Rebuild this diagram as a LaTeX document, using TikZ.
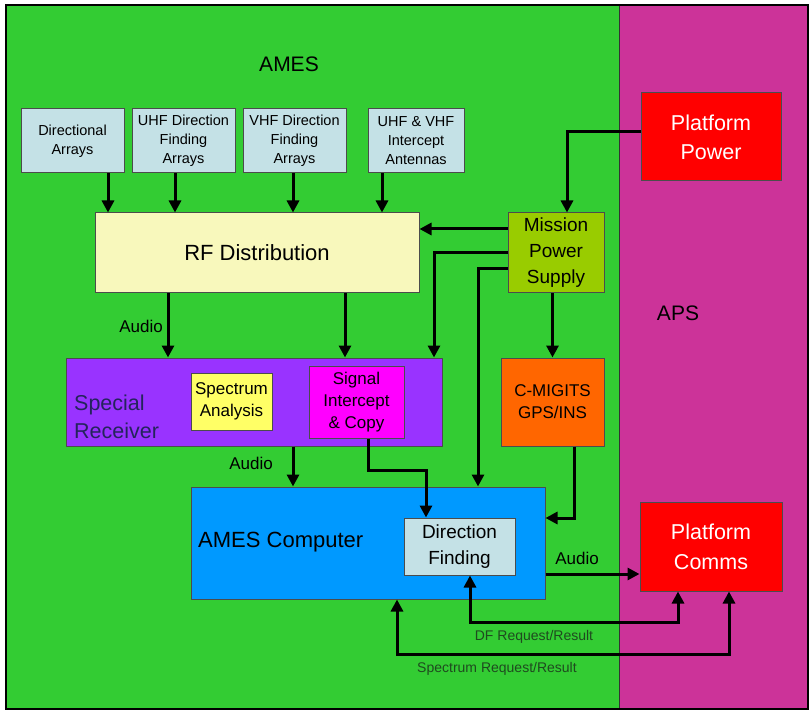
\documentclass[tikz,border=0pt]{standalone}
\usepackage{fontspec}
\setmainfont{Liberation Sans}
\usetikzlibrary{arrows.meta}
\definecolor{gbg}{HTML}{33CC33}
\definecolor{mbg}{HTML}{CC3399}
\definecolor{lblue}{HTML}{C4E1E6}
\definecolor{rfy}{HTML}{F8F8BC}
\definecolor{mpsg}{HTML}{99CC00}
\definecolor{orng}{HTML}{FF6600}
\definecolor{purp}{HTML}{9933FF}
\definecolor{spy}{HTML}{FFFF66}
\definecolor{magb}{HTML}{FF00FF}
\definecolor{compb}{HTML}{0099FF}
\definecolor{redb}{HTML}{FF0000}
\definecolor{srtext}{HTML}{24245C}
\definecolor{reqtext}{HTML}{1F4A1F}
\tikzset{
  box/.style={draw=black!70, line width=1pt, rectangle, align=center, inner sep=0pt},
  arr/.style={line width=3pt, -{Triangle[length=12pt,width=12pt]}},
  arrb/.style={line width=3pt, {Triangle[length=12pt,width=12pt]}-{Triangle[length=12pt,width=12pt]}},
  fsmall/.style={font=\fontsize{14.5}{19}\selectfont},
  fmid/.style={font=\fontsize{17}{22}\selectfont},
  lbl/.style={font=\fontsize{17}{20}\selectfont, inner sep=0pt},
  reqlbl/.style={font=\fontsize{14}{16}\selectfont, text=reqtext, inner sep=0pt},
}
\begin{document}
\begin{tikzpicture}[x=1pt,y=-1pt]
\useasboundingbox (0,0) rectangle (811,711);
\fill[white] (0,0) rectangle (811,711);
% regions
\fill[gbg] (6,5) rectangle (619,709);
\fill[mbg] (619,5) rectangle (808,709);
\draw[black!80, line width=1pt] (619,5) -- (619,709);
\draw[black, line width=2.5pt] (6,5) rectangle (808,709);
\node[font=\fontsize{21}{24}\selectfont] (ames) at (289,64) {AMES};
\node[font=\fontsize{21}{24}\selectfont] (aps) at (678,313) {APS};
% top antennas
\node[box, fill=lblue, fsmall, minimum width=103pt, minimum height=64pt] (da) at (72.5,141) {Directional\\Arrays};
\node[box, fill=lblue, fsmall, minimum width=103pt, minimum height=64pt] (uhf) at (183.5,141) {UHF Direction\\Finding\\Arrays};
\node[box, fill=lblue, fsmall, minimum width=103pt, minimum height=64pt] (vhf) at (294.5,141) {VHF Direction\\Finding\\Arrays};
\node[box, fill=lblue, fsmall, minimum width=96pt, minimum height=64pt] (ic) at (416,141) {UHF \& VHF\\Intercept\\Antennas};
% RF distribution
\node[box, fill=rfy, font=\fontsize{22}{26}\selectfont, minimum width=324pt, minimum height=80pt] (rf) at (257,253) {RF Distribution};
% mission power supply
\node[box, fill=mpsg, font=\fontsize{19}{26}\selectfont, minimum width=96pt, minimum height=80pt] (mps) at (556,253) {Mission\\Power\\Supply};
% platform power
\node[box, fill=redb, text=white, font=\fontsize{21.5}{29}\selectfont, minimum width=140pt, minimum height=88pt] (pp) at (711,137) {Platform\\Power};
% C-MIGITS
\node[box, fill=orng, font=\fontsize{17}{22}\selectfont, minimum width=103pt, minimum height=88pt] (cm) at (552.5,402) {C-MIGITS\\GPS/INS};
% special receiver
\node[box, fill=purp, minimum width=376pt, minimum height=88pt] (sr) at (254,402) {};
\node[font=\fontsize{21.5}{28}\selectfont, text=srtext, align=left, anchor=west, inner sep=0pt] (srt) at (74,417) {Special\\Receiver};
\node[box, fill=spy, fmid, minimum width=81pt, minimum height=57pt] (sa) at (231.5,401.5) {Spectrum\\Analysis};
\node[box, fill=magb, fmid, minimum width=95pt, minimum height=72pt] (sic) at (356.5,402) {Signal\\Intercept\\\& Copy};
% AMES computer
\node[box, fill=compb, minimum width=354pt, minimum height=112pt] (ac) at (368,543) {};
\node[font=\fontsize{22}{26}\selectfont, anchor=west, inner sep=0pt] (act) at (198,542) {AMES Computer};
\node[box, fill=lblue, font=\fontsize{19}{26}\selectfont, minimum width=111pt, minimum height=57pt] (df) at (459.5,546.5) {Direction\\Finding};
% platform comms
\node[box, fill=redb, text=white, font=\fontsize{21.5}{30}\selectfont, minimum width=142pt, minimum height=89pt] (pc) at (711,546.5) {Platform\\Comms};

% helper coordinates
\coordinate (x108) at (108,0);
\coordinate (x175) at (175,0);
\coordinate (x293) at (293,0);
\coordinate (x382) at (382,0);
\coordinate (x168) at (168,0);
\coordinate (x345) at (345,0);
\coordinate (x434) at (434,0);
\coordinate (x478) at (478,0);
\coordinate (x368) at (368,0);
\coordinate (k1) at (426,470);
\coordinate (k2) at (574,518);
\coordinate (y574) at (0,574);
\coordinate (dfa) at (470,622);
\coordinate (dfb) at (678,622);
\coordinate (spa) at (397,654);
\coordinate (spb) at (729,654);

% antennas to RF
\draw[arr] (da.south -| x108) -- (rf.north -| x108);
\draw[arr] (uhf.south -| x175) -- (rf.north -| x175);
\draw[arr] (vhf.south -| x293) -- (rf.north -| x293);
\draw[arr] (ic.south -| x382) -- (rf.north -| x382);
% power
\draw[arr] ([yshift=5pt]pp.west) -| ([xshift=11pt]mps.north);
\draw[arr] ([yshift=24pt]mps.west) -- ([yshift=24pt]rf.east);
\draw[arr] (mps.west) -| (sr.north -| x434);
\draw[arr] ([yshift=-16pt]mps.west) -| (ac.north -| x478);
\draw[arr] (cm.north |- mps.south) -- (cm.north);
\draw[arr] (cm.south -| k2) |- (ac.east |- k2);
% RF to SR
\draw[arr] (rf.south -| x168) -- (sr.north -| x168);
\draw[arr] (rf.south -| x345) -- (sr.north -| x345);
\node[lbl] (au1) at (141,326) {Audio};
% SR to AC
\draw[arr] (sr.south -| x293) -- (ac.north -| x293);
\node[lbl] (au2) at (251,463) {Audio};
% SIC to DF
\draw[arr] (sic.south -| x368) |- (k1) -- (df.north -| k1);
% AC to PC
\draw[arr] (ac.east |- y574) -- (pc.west |- y574);
\node[lbl] (au3) at (577,558) {Audio};
% request/result
\draw[arrb] (df.south -| dfa) |- (dfb) -- (pc.south -| dfb);
\node[reqlbl] (dfl) at (534,637) {DF Request/Result};
\draw[arrb] (ac.south -| spa) |- (spb) -- (pc.south -| spb);
\node[reqlbl] (spl) at (497,669) {Spectrum Request/Result};
\end{tikzpicture}
\end{document}
